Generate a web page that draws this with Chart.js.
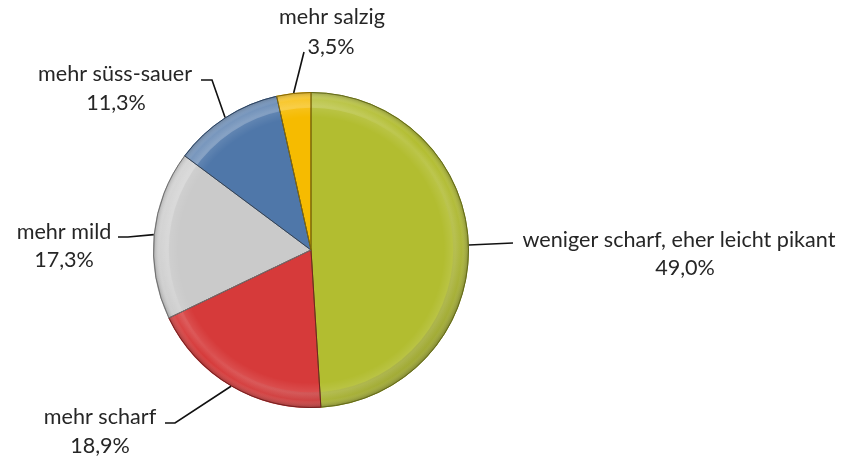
<!DOCTYPE html>
<html><head><meta charset="utf-8">
<script src="https://cdn.jsdelivr.net/npm/chart.js@4/dist/chart.umd.min.js"></script>
<style>html,body{margin:0;padding:0;background:#fff}#wrap{width:849px;height:457px;position:relative}</style>
</head><body><div id="wrap"><canvas id="c"></canvas></div>
<script>
const categories = ["weniger scharf, eher leicht pikant", "mehr scharf", "mehr mild", "mehr süss-sauer", "mehr salzig"];
const shares = [49.0, 18.9, 17.3, 11.3, 3.5];
const percentLabels = ["49,0%", "18,9%", "17,3%", "11,3%", "3,5%"];
const sliceColors = ["#b2bd30", "#d63a3a", "#cacaca", "#4f77a9", "#f6bb00"];

// text block layout for each data label (line centres) and leader-line knee/end
const labelLayout = [
  {cx1: 679, cx2: 685, y1: 240, y2: 268, knee: [513, 243], end: [513, 243]},
  {cx1: 100, cx2: 100, y1: 417, y2: 446, knee: [175, 423], end: [165, 423]},
  {cx1: 64,  cx2: 64,  y1: 232, y2: 260, knee: [128, 237], end: [118, 237]},
  {cx1: 115, cx2: 116, y1: 74,  y2: 103, knee: [212, 80],  end: [201, 80]},
  {cx1: 332, cx2: 331, y1: 17,  y2: 47,  knee: [304, 52],  end: [304, 52]}
];
const FONT_FAMILY = 'Lato, "Open Sans", sans-serif';
const TARGET_WIDTH_LONGEST = 313; // width of the longest label in the reference

function shade(hex, f) {
  const n = parseInt(hex.slice(1), 16);
  let r = n >> 16, g = (n >> 8) & 255, b = n & 255;
  if (f >= 0) { r += (255 - r) * f; g += (255 - g) * f; b += (255 - b) * f; }
  else { r *= 1 + f; g *= 1 + f; b *= 1 + f; }
  return `rgb(${Math.round(r)},${Math.round(g)},${Math.round(b)})`;
}

const bevelPlugin = {
  id: 'bevel',
  afterDatasetsDraw(chart) {
    const ctx = chart.ctx;
    const meta = chart.getDatasetMeta(0);
    meta.data.forEach((arc, i) => {
      const {x, y, startAngle, endAngle, outerRadius} = arc.getProps(['x', 'y', 'startAngle', 'endAngle', 'outerRadius'], true);
      ctx.save();
      ctx.beginPath();
      ctx.moveTo(x, y);
      ctx.arc(x, y, outerRadius, startAngle, endAngle);
      ctx.closePath();
      ctx.clip();
      const rg = ctx.createRadialGradient(x, y, outerRadius * 0.84, x, y, outerRadius);
      rg.addColorStop(0, 'rgba(255,255,255,0)');
      rg.addColorStop(0.45, 'rgba(255,255,255,0.12)');
      rg.addColorStop(0.7, 'rgba(255,255,255,0.0)');
      rg.addColorStop(1, 'rgba(0,0,0,0.28)');
      ctx.fillStyle = rg;
      ctx.beginPath();
      ctx.arc(x, y, outerRadius, 0, Math.PI * 2);
      ctx.arc(x, y, outerRadius * 0.84, 0, Math.PI * 2, true);
      ctx.fill();
      const lg = ctx.createLinearGradient(x - outerRadius, y - outerRadius, x + outerRadius, y + outerRadius);
      lg.addColorStop(0, 'rgba(255,255,255,0.35)');
      lg.addColorStop(0.5, 'rgba(255,255,255,0)');
      lg.addColorStop(1, 'rgba(0,0,0,0.25)');
      ctx.fillStyle = lg;
      ctx.beginPath();
      ctx.arc(x, y, outerRadius, 0, Math.PI * 2);
      ctx.arc(x, y, outerRadius * 0.9, 0, Math.PI * 2, true);
      ctx.fill();
      ctx.restore();
      ctx.save();
      ctx.beginPath();
      ctx.moveTo(x, y);
      ctx.arc(x, y, outerRadius - 0.5, startAngle, endAngle);
      ctx.closePath();
      ctx.strokeStyle = shade(sliceColors[i], -0.45);
      ctx.lineWidth = 1;
      ctx.stroke();
      ctx.restore();
    });
  }
};

const labelPlugin = {
  id: 'pieLabels',
  afterDraw(chart) {
    const ctx = chart.ctx;
    const meta = chart.getDatasetMeta(0);
    ctx.save();
    ctx.font = '100px ' + FONT_FAMILY;
    const w100 = ctx.measureText(categories[0]).width;
    const size = Math.min(24, Math.max(14, 100 * TARGET_WIDTH_LONGEST / w100));
    meta.data.forEach((arc, i) => {
      const {x, y, startAngle, endAngle, outerRadius} = arc.getProps(['x', 'y', 'startAngle', 'endAngle', 'outerRadius'], true);
      const mid = (startAngle + endAngle) / 2;
      const ex = x + Math.cos(mid) * outerRadius;
      const ey = y + Math.sin(mid) * outerRadius;
      const L = labelLayout[i];
      ctx.beginPath();
      ctx.moveTo(ex, ey);
      ctx.lineTo(L.knee[0], L.knee[1]);
      ctx.lineTo(L.end[0], L.end[1]);
      ctx.strokeStyle = '#111';
      ctx.lineWidth = 1.6;
      ctx.stroke();
      ctx.fillStyle = '#262626';
      ctx.font = size.toFixed(2) + 'px ' + FONT_FAMILY;
      ctx.textAlign = 'center';
      ctx.textBaseline = 'middle';
      ctx.fillText(categories[i], L.cx1, L.y1);
      ctx.fillText(percentLabels[i], L.cx2, L.y2);
    });
    ctx.restore();
  }
};

new Chart(document.getElementById('c'), {
  type: 'pie',
  data: {
    labels: categories,
    datasets: [{
      data: shares,
      backgroundColor: sliceColors,
      borderWidth: 0
    }]
  },
  options: {
    responsive: true,
    maintainAspectRatio: false,
    animation: false,
    layout: {padding: {top: 92, bottom: 49, left: 153, right: 380}},
    plugins: {legend: {display: false}, tooltip: {enabled: false}}
  },
  plugins: [bevelPlugin, labelPlugin]
});
</script>
</body></html>
